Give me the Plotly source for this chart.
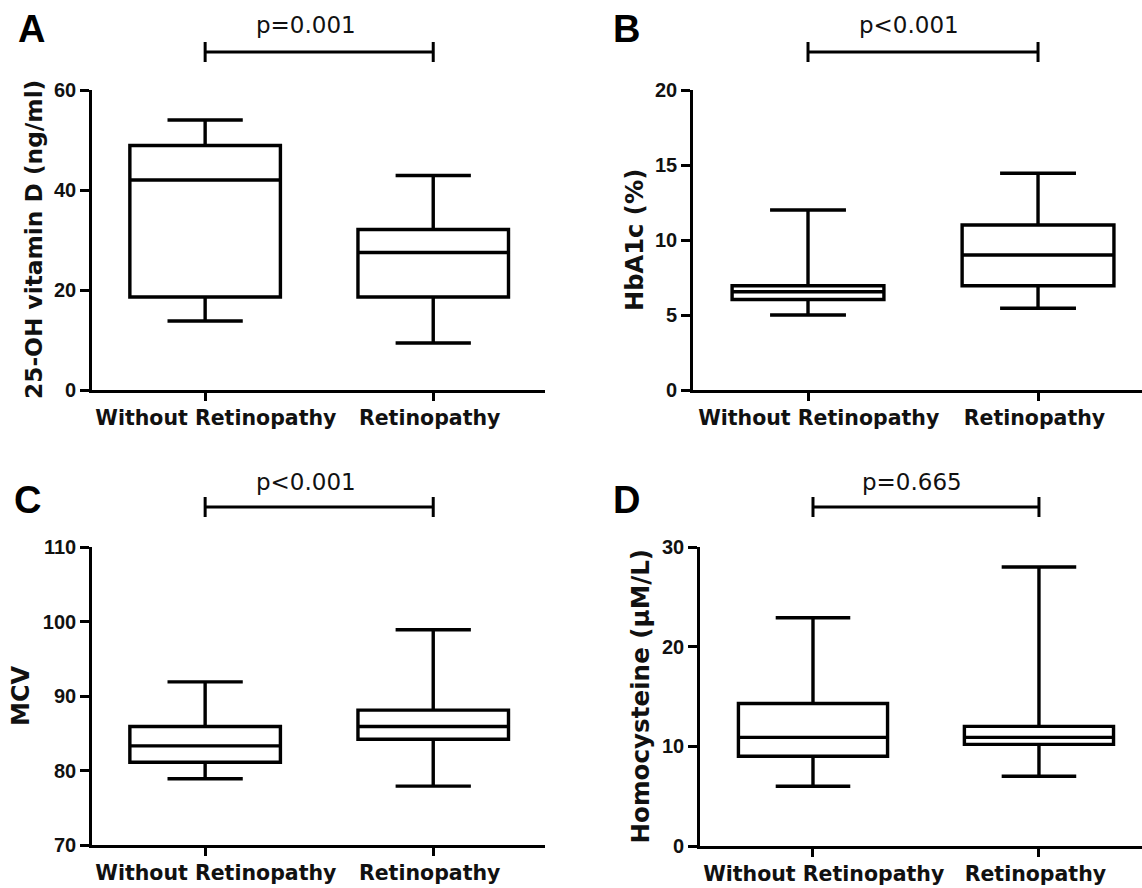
import plotly.graph_objects as go

W, H = 1142, 888

categories = ["Without Retinopathy", "Retinopathy"]

# Panel A: 25-OH vitamin D
a_low = [13.8, 9.4]
a_q1 = [18.6, 18.6]
a_med = [42.0, 27.5]
a_q3 = [48.9, 32.1]
a_high = [54.0, 42.9]

# Panel B: HbA1c
b_low = [5.0, 5.45]
b_q1 = [6.03, 6.95]
b_med = [6.55, 9.0]
b_q3 = [6.95, 11.0]
b_high = [12.0, 14.45]

# Panel C: MCV
c_low = [78.9, 77.9]
c_q1 = [81.1, 84.2]
c_med = [83.3, 85.9]
c_q3 = [85.9, 88.1]
c_high = [91.9, 98.9]

# Panel D: Homocysteine
d_low = [6.0, 7.0]
d_q1 = [9.0, 10.2]
d_med = [10.9, 10.9]
d_q3 = [14.3, 12.0]
d_high = [22.9, 28.0]

panel_letters = ["A", "B", "C", "D"]
p_labels = ["p=0.001", "p<0.001", "p<0.001", "p=0.665"]
y_titles = ["25-OH vitamin D (ng/ml)", "HbA1c (%)", "MCV", "Homocysteine (\u00b5M/L)"]
y_ticks = [[0, 20, 40, 60], [0, 5, 10, 15, 20], [70, 80, 90, 100, 110], [0, 10, 20, 30]]
y_ranges = [[0, 60], [0, 20], [70, 110], [0, 30]]

positions = [0, 1]

def px_x(v):
    return v / W

def px_y(v):
    return 1 - v / H

BOLD = "DejaVu Sans"
TICKF = "Liberation Sans"
NB = "\u00a0"

# first label sits a little right of its tick in the original
tick_text = [NB * 3 + categories[0], categories[1] + NB]

geo = [
    dict(l=92, r=545, t=90, b=390, xr=[-0.496, 1.49]),
    dict(l=693, r=1142, t=90, b=390, xr=[-0.5, 1.452]),
    dict(l=92, r=545, t=547, b=845, xr=[-0.496, 1.49]),
    dict(l=700, r=1142, t=547, b=846, xr=[-0.5, 1.456]),
]

stats = [
    (a_low, a_q1, a_med, a_q3, a_high),
    (b_low, b_q1, b_med, b_q3, b_high),
    (c_low, c_q1, c_med, c_q3, c_high),
    (d_low, d_q1, d_med, d_q3, d_high),
]

fig = go.Figure()
layout = {}
shapes = []
annotations = []

bracket_y = [52, 52, 507, 507]
tick_half = 10
p_y = [25, 25, 482, 482]
letter_pos = [(31, 29), (626, 29), (27, 500), (626, 500)]
title_x = [33, 635, 21, 640]
title_size = [23.3, 24.2, 24, 24.6]

for i in range(4):
    g = geo[i]
    s = "" if i == 0 else str(i + 1)
    xa, ya = "x" + s, "y" + s
    lo, q1, md, q3, hi = stats[i]
    fig.add_trace(go.Box(
        x=positions, lowerfence=lo, q1=q1, median=md, q3=q3, upperfence=hi,
        xaxis=xa, yaxis=ya, width=0.66, whiskerwidth=0.5,
        fillcolor="white", line=dict(color="black", width=3.4),
        boxpoints=False, showlegend=False, hoverinfo="skip",
    ))
    layout["xaxis" + s] = dict(
        domain=[px_x(g["l"]), px_x(g["r"])], range=g["xr"], anchor=ya,
        tickvals=positions, ticktext=tick_text, showline=True, linecolor="black",
        linewidth=2.6, ticks="outside", ticklen=8, tickwidth=2.6, tickcolor="black",
        showgrid=False, zeroline=False, automargin=False,
        tickfont=dict(family=BOLD, size=20.5, color="#111", weight="bold"),
    )
    layout["yaxis" + s] = dict(
        domain=[px_y(g["b"]), px_y(g["t"])], range=y_ranges[i], anchor=xa,
        tickvals=y_ticks[i], showline=True, linecolor="black", linewidth=2.6,
        ticks="outside", ticklen=9, tickwidth=2.6, tickcolor="black",
        showgrid=False, zeroline=False, automargin=False,
        tickfont=dict(family=TICKF, size=20, color="#111", weight="bold"),
    )
    by = bracket_y[i]
    shapes.append(dict(type="line", xref=xa, yref="paper", x0=0, x1=1,
                       y0=px_y(by), y1=px_y(by), line=dict(color="black", width=3)))
    for xv in positions:
        shapes.append(dict(type="line", xref=xa, yref="paper", x0=xv, x1=xv,
                           y0=px_y(by - tick_half), y1=px_y(by + tick_half),
                           line=dict(color="black", width=3)))
    annotations.append(dict(text=p_labels[i], xref=xa, yref="paper", x=0.44,
                            y=px_y(p_y[i]), showarrow=False, xanchor="center",
                            yanchor="middle",
                            font=dict(family=BOLD, size=23, color="#111")))
    lx, ly = letter_pos[i]
    annotations.append(dict(text="<b>" + panel_letters[i] + "</b>", xref="paper", yref="paper",
                            x=px_x(lx), y=px_y(ly), showarrow=False, xanchor="center",
                            yanchor="middle",
                            font=dict(family=TICKF, size=38, color="black")))
    annotations.append(dict(text="<b>" + y_titles[i] + "</b>", xref="paper", yref="paper",
                            x=px_x(title_x[i]), y=px_y((g["t"] + g["b"]) / 2),
                            showarrow=False, textangle=-90, xanchor="center",
                            yanchor="middle",
                            font=dict(family=BOLD, size=title_size[i], color="#111")))

fig.update_layout(
    width=W, height=H, margin=dict(l=0, r=0, t=0, b=0, autoexpand=False),
    paper_bgcolor="white", plot_bgcolor="white",
    shapes=shapes, annotations=annotations, **layout,
)

fig.write_html(
    "out.html",
    config={"displayModeBar": False},
    post_script="document.body.style.margin='0';document.body.style.overflow='hidden';",
)
